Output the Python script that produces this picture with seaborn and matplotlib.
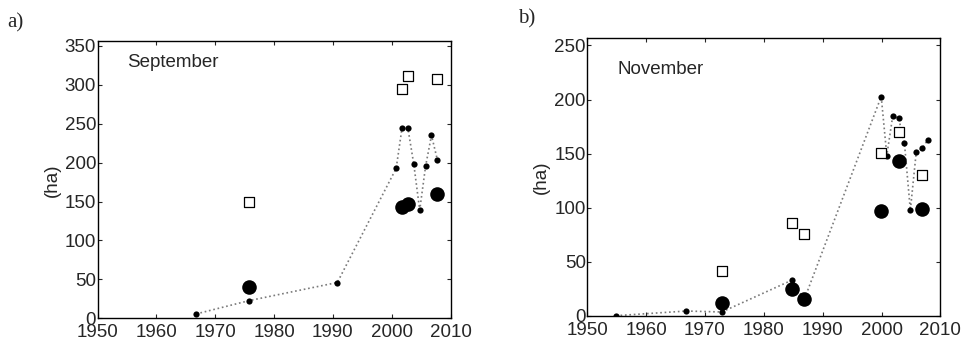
import numpy as np
import pandas as pd
import seaborn as sns
import matplotlib.pyplot as plt

# September (a)
sep_line_year = [1966.75, 1975.75, 1990.75, 2000.75, 2001.75, 2002.75, 2003.75, 2004.75, 2005.75, 2006.75, 2007.75]
sep_line_ha = [5.6, 22.7, 46, 192.6, 244.8, 243.9, 197.7, 139, 195.5, 235, 203.7]
sep_circ_year = [1975.75, 2001.75, 2002.75, 2007.75]
sep_circ_ha = [40.2, 142.5, 146.3, 160]
sep_sq_year = [1975.75, 2001.75, 2002.75, 2007.75]
sep_sq_ha = [149.8, 294.4, 311.5, 307.7]

# November (b)
nov_line_year = [1954.9, 1966.85, 1972.85, 1984.85, 1986.85, 1999.95, 2000.9, 2001.9, 2002.9, 2003.9, 2004.9, 2005.9, 2006.9, 2007.9]
nov_line_ha = [0.3, 4.6, 3.7, 33.3, 15, 202.8, 148.3, 184.6, 182.8, 159.4, 97.7, 151.4, 155, 163]
nov_circ_year = [1972.85, 1984.85, 1986.85, 1999.95, 2002.9, 2006.9]
nov_circ_ha = [12.3, 25.3, 15.4, 97.4, 143, 98.6]
nov_sq_year = [1972.85, 1984.85, 1986.85, 1999.95, 2002.9, 2006.9]
nov_sq_ha = [41.6, 86.3, 75.5, 151, 170.2, 130.4]

sns.set_style('white')
plt.rcParams['font.family'] = ['Liberation Sans', 'DejaVu Sans']

fig = plt.figure(figsize=(9.62, 3.4), dpi=100)
ax1 = fig.add_axes([0.1014, 0.0638, 0.367, 0.815])
ax2 = fig.add_axes([0.6105, 0.0706, 0.367, 0.818])

fs = 13.5


def panel(ax, ly, lv, cy, cv, sy, sv, ymax, month, ty, yticks):
    df = pd.DataFrame({'year': ly, 'ha': lv})
    sns.lineplot(x='year', y='ha', data=df, ax=ax, sort=False, color='#7a7a7a',
                 linestyle=':', linewidth=1.2, zorder=1)
    sns.scatterplot(x='year', y='ha', data=df, ax=ax, color='black', s=20,
                    edgecolor='black', linewidth=0, zorder=2)
    sns.scatterplot(x=sy, y=sv, ax=ax, marker='s', s=55, facecolor='white',
                    edgecolor='black', linewidth=0.9, zorder=3)
    sns.scatterplot(x=cy, y=cv, ax=ax, color='black', s=110,
                    edgecolor='black', linewidth=0, zorder=4)
    ax.set_xlim(1950, 2010)
    ax.set_ylim(0, ymax)
    ax.set_xticks(range(1950, 2011, 10))
    ax.set_yticks(yticks)
    ax.set_xlabel('')
    ax.set_ylabel('(ha)', fontsize=fs, labelpad=3)
    ax.tick_params(direction='in', length=3, width=0.8, labelsize=fs,
                   top=True, right=True, bottom=True, left=True, pad=1)
    ax.tick_params(axis='x', pad=4)
    for sp in ax.spines.values():
        sp.set_color('black')
        sp.set_linewidth(1.0)
    ax.text(0.085, ty, month, transform=ax.transAxes, fontsize=fs,
            va='center', ha='left')


panel(ax1, sep_line_year, sep_line_ha, sep_circ_year, sep_circ_ha,
      sep_sq_year, sep_sq_ha, 356, 'September', 0.923, range(0, 351, 50))
panel(ax2, nov_line_year, nov_line_ha, nov_circ_year, nov_circ_ha,
      nov_sq_year, nov_sq_ha, 257, 'November', 0.888, range(0, 251, 50))

fig.text(0.008, 0.918, 'a)', fontsize=15, family=['Liberation Serif', 'DejaVu Serif'])
fig.text(0.538, 0.93, 'b)', fontsize=15, family=['Liberation Serif', 'DejaVu Serif'])

fig.savefig('out.png', dpi=100)
